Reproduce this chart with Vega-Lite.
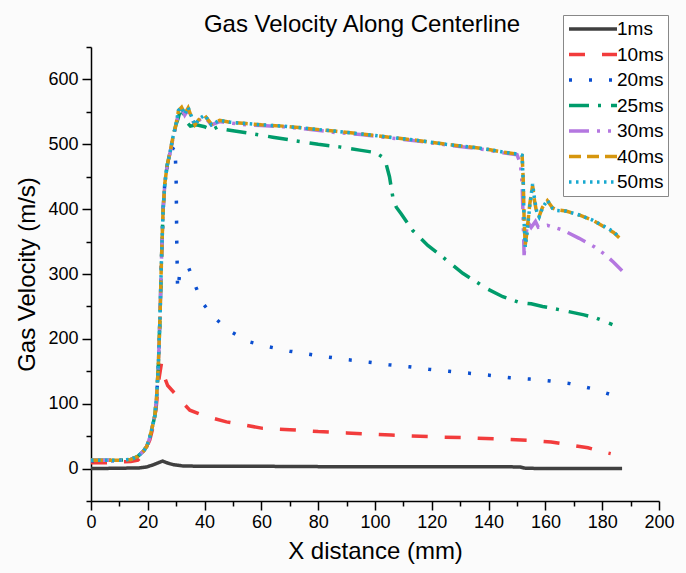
{
"$schema": "https://vega.github.io/schema/vega-lite/v6.json",
"width": 568, "height": 454,
"autosize": {"type": "none"},
"padding": {"left": 91, "top": 47, "right": 27, "bottom": 72},
"background": "#fbfbfb",
"title": {"text": "Gas Velocity Along Centerline", "fontSize": 24, "font": "Liberation Sans", "fontWeight": "normal", "color": "#000000", "anchor": "middle", "dx": -13, "offset": -22},
"config": {"view": {"stroke": null}, "font": "Liberation Sans"},
"datasets": {
"d1": [
{"s":"1ms","x":0,"y":0},{"s":"1ms","x":10,"y":0.5},{"s":"1ms","x":17,"y":1},{"s":"1ms","x":19.6,"y":2.5},{"s":"1ms","x":22,"y":6},{"s":"1ms","x":25.2,"y":11.5},{"s":"1ms","x":27,"y":8.5},{"s":"1ms","x":29,"y":6},{"s":"1ms","x":32.4,"y":4},{"s":"1ms","x":40,"y":3.5},{"s":"1ms","x":60,"y":3.5},{"s":"1ms","x":80,"y":3},{"s":"1ms","x":100,"y":3},{"s":"1ms","x":120,"y":3},{"s":"1ms","x":140,"y":3},{"s":"1ms","x":151,"y":2.5},{"s":"1ms","x":153,"y":0.5},{"s":"1ms","x":160,"y":0},{"s":"1ms","x":170,"y":0},{"s":"1ms","x":187,"y":0},

{"s":"10ms","x":0,"y":9},{"s":"10ms","x":5,"y":9},{"s":"10ms","x":10,"y":10},{"s":"10ms","x":14,"y":11},{"s":"10ms","x":16.5,"y":13},{"s":"10ms","x":18.5,"y":22},{"s":"10ms","x":20.7,"y":44},{"s":"10ms","x":22.5,"y":75},{"s":"10ms","x":23.3,"y":110},{"s":"10ms","x":24,"y":140},{"s":"10ms","x":24.8,"y":162},{"s":"10ms","x":25.5,"y":145},{"s":"10ms","x":27,"y":128},{"s":"10ms","x":29.5,"y":116},{"s":"10ms","x":32,"y":103},{"s":"10ms","x":34.8,"y":90},{"s":"10ms","x":39.4,"y":82},{"s":"10ms","x":47.7,"y":72},{"s":"10ms","x":60.5,"y":62},{"s":"10ms","x":70,"y":60},{"s":"10ms","x":80,"y":57},{"s":"10ms","x":90,"y":55},{"s":"10ms","x":105.7,"y":51.6},{"s":"10ms","x":120.3,"y":49},{"s":"10ms","x":132,"y":47.5},{"s":"10ms","x":144.4,"y":45.5},{"s":"10ms","x":156,"y":43},{"s":"10ms","x":162,"y":41},{"s":"10ms","x":167.8,"y":37},{"s":"10ms","x":175,"y":32},{"s":"10ms","x":180,"y":26},{"s":"10ms","x":183,"y":23},

{"s":"20ms","x":0,"y":12},{"s":"20ms","x":5,"y":12},{"s":"20ms","x":10,"y":12},{"s":"20ms","x":14,"y":14},{"s":"20ms","x":16.5,"y":19},{"s":"20ms","x":18.5,"y":27},{"s":"20ms","x":19.6,"y":34},{"s":"20ms","x":20.5,"y":45},{"s":"20ms","x":21.3,"y":59},{"s":"20ms","x":22,"y":72},{"s":"20ms","x":22.5,"y":82},{"s":"20ms","x":23.1,"y":110},{"s":"20ms","x":23.7,"y":157},{"s":"20ms","x":24.3,"y":234},{"s":"20ms","x":24.8,"y":320},{"s":"20ms","x":25.4,"y":400},{"s":"20ms","x":26,"y":440},{"s":"20ms","x":26.8,"y":465},{"s":"20ms","x":27.8,"y":482},{"s":"20ms","x":28.9,"y":494},{"s":"20ms","x":29.6,"y":498},{"s":"20ms","x":30,"y":440},{"s":"20ms","x":30.2,"y":350},{"s":"20ms","x":30.5,"y":275},{"s":"20ms","x":31.3,"y":302},{"s":"20ms","x":32.5,"y":306},{"s":"20ms","x":34.2,"y":312},{"s":"20ms","x":36.6,"y":283},{"s":"20ms","x":39.5,"y":254},{"s":"20ms","x":43.6,"y":232},{"s":"20ms","x":48.9,"y":212},{"s":"20ms","x":55.3,"y":196},{"s":"20ms","x":62.3,"y":188},{"s":"20ms","x":70,"y":181},{"s":"20ms","x":80,"y":174},{"s":"20ms","x":90,"y":168},{"s":"20ms","x":98,"y":164},{"s":"20ms","x":104.9,"y":160},{"s":"20ms","x":112,"y":157},{"s":"20ms","x":119,"y":153},{"s":"20ms","x":126,"y":150},{"s":"20ms","x":133.2,"y":147},{"s":"20ms","x":140.2,"y":144},{"s":"20ms","x":147.5,"y":140},{"s":"20ms","x":154.5,"y":138},{"s":"20ms","x":161.7,"y":135},{"s":"20ms","x":168.7,"y":131},{"s":"20ms","x":175.7,"y":124},{"s":"20ms","x":182.4,"y":115},

{"s":"25ms","x":0,"y":13},{"s":"25ms","x":5,"y":13},{"s":"25ms","x":10,"y":13},{"s":"25ms","x":14,"y":14},{"s":"25ms","x":16.5,"y":19},{"s":"25ms","x":18.5,"y":27},{"s":"25ms","x":19.6,"y":34},{"s":"25ms","x":20.5,"y":45},{"s":"25ms","x":21.3,"y":59},{"s":"25ms","x":22,"y":72},{"s":"25ms","x":22.5,"y":82},{"s":"25ms","x":23.1,"y":110},{"s":"25ms","x":23.7,"y":157},{"s":"25ms","x":24.3,"y":234},{"s":"25ms","x":24.8,"y":320},{"s":"25ms","x":25.4,"y":400},{"s":"25ms","x":26,"y":440},{"s":"25ms","x":26.8,"y":467},{"s":"25ms","x":27.8,"y":487},{"s":"25ms","x":28.9,"y":512},{"s":"25ms","x":29.9,"y":530},{"s":"25ms","x":30.7,"y":540},{"s":"25ms","x":31.3,"y":550},{"s":"25ms","x":32,"y":556},{"s":"25ms","x":32.4,"y":548},{"s":"25ms","x":33.5,"y":535},{"s":"25ms","x":35,"y":528},{"s":"25ms","x":37.1,"y":530},{"s":"25ms","x":40,"y":527},{"s":"25ms","x":42.4,"y":522},{"s":"25ms","x":44.7,"y":527},{"s":"25ms","x":47,"y":523},{"s":"25ms","x":50,"y":521},{"s":"25ms","x":57,"y":516},{"s":"25ms","x":64,"y":511},{"s":"25ms","x":71.1,"y":506},{"s":"25ms","x":80,"y":500},{"s":"25ms","x":87.5,"y":496},{"s":"25ms","x":94.6,"y":491},{"s":"25ms","x":100.4,"y":487},{"s":"25ms","x":102.7,"y":480},{"s":"25ms","x":103.9,"y":470},{"s":"25ms","x":105.1,"y":450},{"s":"25ms","x":106.3,"y":418},{"s":"25ms","x":107.5,"y":403},{"s":"25ms","x":109.2,"y":393},{"s":"25ms","x":113.3,"y":367},{"s":"25ms","x":118.6,"y":344},{"s":"25ms","x":123.9,"y":326},{"s":"25ms","x":130.9,"y":301},{"s":"25ms","x":136.7,"y":285},{"s":"25ms","x":139.1,"y":278},{"s":"25ms","x":145,"y":265},{"s":"25ms","x":150.8,"y":256},{"s":"25ms","x":155,"y":254},{"s":"25ms","x":159,"y":250},{"s":"25ms","x":166,"y":244},{"s":"25ms","x":173.6,"y":237},{"s":"25ms","x":178,"y":232},{"s":"25ms","x":183.6,"y":222},

{"s":"30ms","x":0,"y":13},{"s":"30ms","x":5,"y":13},{"s":"30ms","x":10,"y":13},{"s":"30ms","x":14,"y":14},{"s":"30ms","x":16.5,"y":19},{"s":"30ms","x":18.5,"y":27},{"s":"30ms","x":19.6,"y":34},{"s":"30ms","x":20.5,"y":45},{"s":"30ms","x":21.3,"y":59},{"s":"30ms","x":22,"y":72},{"s":"30ms","x":22.5,"y":82},{"s":"30ms","x":23.1,"y":110},{"s":"30ms","x":23.7,"y":157},{"s":"30ms","x":24.3,"y":234},{"s":"30ms","x":24.8,"y":320},{"s":"30ms","x":25.4,"y":400},{"s":"30ms","x":26,"y":440},{"s":"30ms","x":26.8,"y":466},{"s":"30ms","x":27.8,"y":486},{"s":"30ms","x":28.9,"y":510},{"s":"30ms","x":29.9,"y":528},{"s":"30ms","x":30.8,"y":550},{"s":"30ms","x":31.9,"y":555},{"s":"30ms","x":33,"y":545},{"s":"30ms","x":34.2,"y":553},{"s":"30ms","x":35.2,"y":542},{"s":"30ms","x":36.6,"y":529},{"s":"30ms","x":38.3,"y":538},{"s":"30ms","x":40.1,"y":542},{"s":"30ms","x":42.4,"y":530},{"s":"30ms","x":45.3,"y":535},{"s":"30ms","x":48.9,"y":533},{"s":"30ms","x":54.7,"y":530},{"s":"30ms","x":60,"y":529},{"s":"30ms","x":67.6,"y":527},{"s":"30ms","x":75,"y":524},{"s":"30ms","x":86.4,"y":518},{"s":"30ms","x":95,"y":515},{"s":"30ms","x":105,"y":510},{"s":"30ms","x":115,"y":505},{"s":"30ms","x":125,"y":499},{"s":"30ms","x":135,"y":494},{"s":"30ms","x":140,"y":491},{"s":"30ms","x":145,"y":487},{"s":"30ms","x":150,"y":484},{"s":"30ms","x":151.2,"y":470},{"s":"30ms","x":151.8,"y":440},{"s":"30ms","x":152.2,"y":380},{"s":"30ms","x":152.5,"y":329},{"s":"30ms","x":153,"y":355},{"s":"30ms","x":153.8,"y":380},{"s":"30ms","x":155,"y":372},{"s":"30ms","x":156.5,"y":381},{"s":"30ms","x":157.5,"y":372},{"s":"30ms","x":160.7,"y":375},{"s":"30ms","x":166,"y":368},{"s":"30ms","x":171.9,"y":355},{"s":"30ms","x":177.2,"y":342},{"s":"30ms","x":181.3,"y":329},{"s":"30ms","x":184,"y":318},{"s":"30ms","x":187,"y":305},

{"s":"40ms","x":0,"y":13},{"s":"40ms","x":5,"y":13},{"s":"40ms","x":10,"y":13},{"s":"40ms","x":14,"y":14},{"s":"40ms","x":16.5,"y":19},{"s":"40ms","x":18.5,"y":27},{"s":"40ms","x":19.6,"y":34},{"s":"40ms","x":20.5,"y":45},{"s":"40ms","x":21.3,"y":59},{"s":"40ms","x":22,"y":72},{"s":"40ms","x":22.5,"y":82},{"s":"40ms","x":23.1,"y":110},{"s":"40ms","x":23.7,"y":157},{"s":"40ms","x":24.3,"y":234},{"s":"40ms","x":24.8,"y":320},{"s":"40ms","x":25.4,"y":400},{"s":"40ms","x":26,"y":440},{"s":"40ms","x":26.8,"y":467},{"s":"40ms","x":27.8,"y":487},{"s":"40ms","x":28.9,"y":512},{"s":"40ms","x":29.9,"y":530},{"s":"40ms","x":30.8,"y":552},{"s":"40ms","x":31.9,"y":557},{"s":"40ms","x":33,"y":547},{"s":"40ms","x":34.2,"y":556},{"s":"40ms","x":35.2,"y":544},{"s":"40ms","x":36.6,"y":530},{"s":"40ms","x":38.3,"y":540},{"s":"40ms","x":40.1,"y":544},{"s":"40ms","x":42.4,"y":531},{"s":"40ms","x":45.3,"y":537},{"s":"40ms","x":48.9,"y":534},{"s":"40ms","x":54.7,"y":532},{"s":"40ms","x":60,"y":530},{"s":"40ms","x":67.6,"y":528},{"s":"40ms","x":75,"y":525},{"s":"40ms","x":86.4,"y":520},{"s":"40ms","x":95,"y":516},{"s":"40ms","x":105,"y":511},{"s":"40ms","x":115,"y":506},{"s":"40ms","x":125,"y":500},{"s":"40ms","x":135,"y":495},{"s":"40ms","x":140,"y":492},{"s":"40ms","x":145,"y":488},{"s":"40ms","x":150,"y":485},{"s":"40ms","x":151.8,"y":483},{"s":"40ms","x":152.2,"y":445},{"s":"40ms","x":152.5,"y":385},{"s":"40ms","x":152.9,"y":345},{"s":"40ms","x":153.5,"y":365},{"s":"40ms","x":154.5,"y":408},{"s":"40ms","x":155.5,"y":436},{"s":"40ms","x":156.2,"y":412},{"s":"40ms","x":157,"y":393},{"s":"40ms","x":157.8,"y":389},{"s":"40ms","x":159,"y":403},{"s":"40ms","x":160.7,"y":413},{"s":"40ms","x":162.5,"y":402},{"s":"40ms","x":164,"y":399},{"s":"40ms","x":167.2,"y":397},{"s":"40ms","x":171.9,"y":391},{"s":"40ms","x":176.6,"y":383},{"s":"40ms","x":181.3,"y":371},{"s":"40ms","x":184,"y":364},{"s":"40ms","x":186,"y":356},

{"s":"50ms","x":0,"y":13},{"s":"50ms","x":5,"y":13},{"s":"50ms","x":10,"y":13},{"s":"50ms","x":14,"y":14},{"s":"50ms","x":16.5,"y":19},{"s":"50ms","x":18.5,"y":27},{"s":"50ms","x":19.6,"y":34},{"s":"50ms","x":20.5,"y":45},{"s":"50ms","x":21.3,"y":59},{"s":"50ms","x":22,"y":72},{"s":"50ms","x":22.5,"y":82},{"s":"50ms","x":23.1,"y":110},{"s":"50ms","x":23.7,"y":157},{"s":"50ms","x":24.3,"y":234},{"s":"50ms","x":24.8,"y":320},{"s":"50ms","x":25.4,"y":400},{"s":"50ms","x":26,"y":440},{"s":"50ms","x":26.8,"y":467},{"s":"50ms","x":27.8,"y":487},{"s":"50ms","x":28.9,"y":512},{"s":"50ms","x":29.9,"y":530},{"s":"50ms","x":30.8,"y":552},{"s":"50ms","x":31.9,"y":557},{"s":"50ms","x":33,"y":546},{"s":"50ms","x":34.2,"y":557},{"s":"50ms","x":35.2,"y":545},{"s":"50ms","x":36.6,"y":530},{"s":"50ms","x":38.3,"y":540},{"s":"50ms","x":40.1,"y":545},{"s":"50ms","x":42.4,"y":530},{"s":"50ms","x":45.3,"y":537},{"s":"50ms","x":48.9,"y":534},{"s":"50ms","x":54.7,"y":532},{"s":"50ms","x":60,"y":530},{"s":"50ms","x":67.6,"y":528},{"s":"50ms","x":75,"y":525},{"s":"50ms","x":86.4,"y":520},{"s":"50ms","x":95,"y":516},{"s":"50ms","x":105,"y":511},{"s":"50ms","x":115,"y":506},{"s":"50ms","x":125,"y":500},{"s":"50ms","x":135,"y":495},{"s":"50ms","x":140,"y":492},{"s":"50ms","x":145,"y":488},{"s":"50ms","x":150,"y":485},{"s":"50ms","x":151.8,"y":483},{"s":"50ms","x":152.2,"y":440},{"s":"50ms","x":152.5,"y":380},{"s":"50ms","x":152.9,"y":342},{"s":"50ms","x":153.5,"y":362},{"s":"50ms","x":154.5,"y":405},{"s":"50ms","x":155.5,"y":439},{"s":"50ms","x":156.2,"y":415},{"s":"50ms","x":157,"y":395},{"s":"50ms","x":157.8,"y":388},{"s":"50ms","x":159,"y":402},{"s":"50ms","x":160.7,"y":414},{"s":"50ms","x":162.5,"y":401},{"s":"50ms","x":164,"y":398},{"s":"50ms","x":167.2,"y":397},{"s":"50ms","x":171.9,"y":391},{"s":"50ms","x":176.6,"y":383},{"s":"50ms","x":181.3,"y":372},{"s":"50ms","x":184,"y":365},{"s":"50ms","x":186,"y":357}
]
},
"data": {"name": "d1"},
"mark": {"type": "line", "strokeWidth": 3.5},
"encoding": {
"x": {"field": "x", "type": "quantitative",
 "scale": {"domain": [0, 200], "nice": false, "zero": false},
 "axis": {"title": "X distance (mm)", "values": [0,10,20,30,40,50,60,70,80,90,100,110,120,130,140,150,160,170,180,190,200],
  "labelExpr": "datum.value % 20 === 0 ? datum.label : ''", "grid": false,
  "domainColor": "#000000", "domainWidth": 1.5, "tickColor": "#000000", "tickWidth": 1.5,
  "tickSize": {"condition": {"test": "datum.value % 20 === 0", "value": 9}, "value": 5},
  "labelFontSize": 18, "labelColor": "#000000", "labelPadding": 3, "labelFlush": false, "labelOverlap": false,
  "titleFontSize": 24, "titleFontWeight": "normal", "titleColor": "#000000", "titlePadding": 8}},
"y": {"field": "y", "type": "quantitative",
 "scale": {"domain": [-50, 650], "nice": false, "zero": false},
 "axis": {"title": "Gas Velocity (m/s)", "values": [-50,0,50,100,150,200,250,300,350,400,450,500,550,600,650],
  "labelExpr": "datum.value % 100 === 0 ? datum.label : ''", "grid": false,
  "domainColor": "#000000", "domainWidth": 1.5, "tickColor": "#000000", "tickWidth": 1.5,
  "tickSize": {"condition": {"test": "datum.value % 100 === 0", "value": 9}, "value": 5},
  "labelFontSize": 18, "labelColor": "#000000", "labelPadding": 4, "labelOverlap": false,
  "titleFontSize": 24, "titleFontWeight": "normal", "titleColor": "#000000", "titlePadding": 8}},
"color": {"field": "s", "type": "nominal",
 "scale": {"domain": ["1ms","10ms","20ms","25ms","30ms","40ms","50ms"], "range": ["#404040","#f23c3c","#0b4fd0","#009c6b","#b477e0","#d6960e","#18a9d0"]},
 "legend": {"title": null, "orient": "none", "legendX": 472, "legendY": -32, "symbolType": "M-1,0H5", "symbolSize": 256, "symbolStrokeWidth": 3.5, "labelFontSize": 19, "labelColor": "#000000", "labelOffset": 30, "rowPadding": 5.5, "padding": 4, "strokeColor": "#888888", "fillColor": "#ffffff"}},
"strokeDash": {"field": "s", "type": "nominal",
 "scale": {"domain": ["1ms","10ms","20ms","25ms","30ms","40ms","50ms"], "range": [[1,0],[16,17],[3,17],[20,9,3,10],[20,8,3,8,3,8],[12,6],[2.5,4.5]]},
 "legend": {"title": null, "orient": "none", "legendX": 472, "legendY": -32, "symbolType": "M-1,0H5", "symbolSize": 256, "symbolStrokeWidth": 3.5, "labelFontSize": 19, "labelColor": "#000000", "labelOffset": 30, "rowPadding": 5.5, "padding": 4, "strokeColor": "#888888", "fillColor": "#ffffff"}}
}
}
